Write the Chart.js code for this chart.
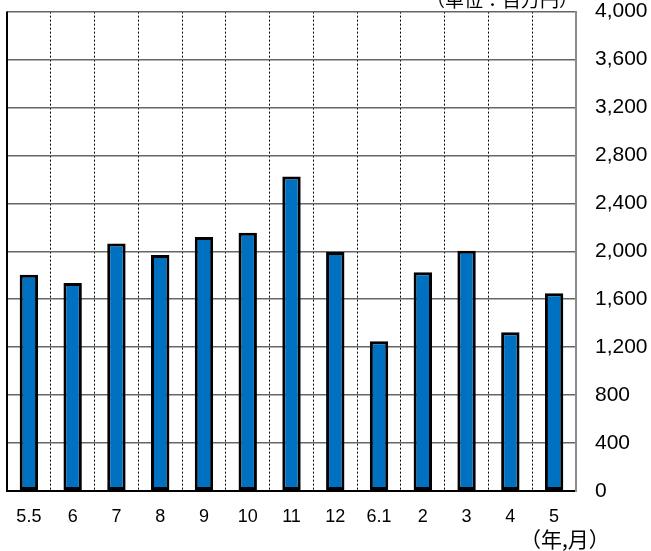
<!DOCTYPE html>
<html>
<head>
<meta charset="utf-8">
<script src="https://cdn.jsdelivr.net/npm/chart.js@4"></script>
<style>
  html, body { margin: 0; padding: 0; background: #fff; }
  #wrap { position: relative; width: 651px; height: 551px; overflow: hidden; }
  canvas { position: absolute; left: 0; top: -20px; }
  .note { position: absolute; font-family: "Noto Sans CJK JP", sans-serif; color: #000; white-space: nowrap; line-height: 1; }
</style>
</head>
<body>
<div id="wrap">
  <canvas id="c" width="651" height="571"></canvas>
  <div class="note" id="unit" style="left:426px; top:-11px; font-size:19px;">（単位：百万円）</div>
  <div class="note" id="ym" style="left:520px; top:528px; font-size:21px;">（年,月）</div>
</div>
<script>
const categories = ["5.5", "6", "7", "8", "9", "10", "11", "12", "6.1", "2", "3", "4", "5"];
const amounts = [1805, 1735, 2065, 1970, 2120, 2155, 2625, 1995, 1250, 1825, 2005, 1325, 1650];
const yTicks = [0, 400, 800, 1200, 1600, 2000, 2400, 2800, 3200, 3600, 4000];

const numFont = "'Liberation Sans', Arial, sans-serif";

const leftBorder = {
  id: 'leftBorder',
  afterDraw(chart) {
    const {ctx, chartArea: a} = chart;
    ctx.save();
    ctx.strokeStyle = '#000';
    ctx.lineWidth = 2;
    ctx.beginPath();
    ctx.moveTo(a.left, a.top);
    ctx.lineTo(a.left, a.bottom + 1);
    ctx.stroke();
    ctx.restore();
  }
};

new Chart(document.getElementById('c'), {
  type: 'bar',
  data: {
    labels: categories,
    datasets: [{
      data: amounts,
      backgroundColor: '#0070C0',
      borderColor: '#000',
      borderWidth: 3,
      borderSkipped: false,
      barPercentage: 0.42,
      categoryPercentage: 1.0
    }]
  },
  options: {
    responsive: false,
    animation: false,
    layout: { padding: { left: 7, top: 13, right: 0, bottom: 0 } },
    plugins: { legend: { display: false }, tooltip: { enabled: false } },
    scales: {
      x: {
        offset: true,
        grid: {
          offset: true,
          drawTicks: false,
          color: '#000',
          lineWidth: 1
        },
        border: { display: true, color: '#000', width: 2, dash: [2, 2] },
        ticks: {
          color: '#000',
          padding: 15,
          font: { family: numFont, size: 18 }
        },
        afterFit(s) { s.height = 60; }
      },
      y: {
        position: 'right',
        min: 0,
        max: 4000,
        afterBuildTicks(s) { s.ticks = yTicks.map(v => ({ value: v })); },
        grid: {
          drawTicks: false,
          color: ctx => (ctx.tick && ctx.tick.value === 0) ? '#000' : '#666666',
          lineWidth: ctx => (ctx.tick && ctx.tick.value === 0) ? 2 : 1.5
        },
        border: { display: true, color: '#8c8c8c', width: 2 },
        ticks: {
          color: '#000',
          padding: 19,
          font: { family: numFont, size: 21 },
          callback: v => v.toLocaleString('en-US')
        },
        afterFit(s) { s.width = 75; }
      }
    }
  },
  plugins: [leftBorder]
});
</script>
</body>
</html>
